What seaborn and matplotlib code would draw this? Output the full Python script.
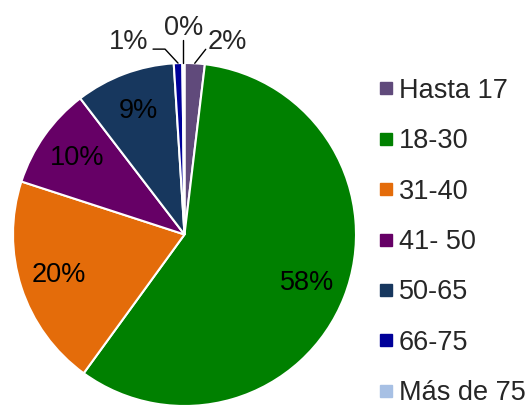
import numpy as np
import matplotlib.pyplot as plt
import seaborn as sns
from matplotlib.lines import Line2D

# datos
grupos = ['Hasta 17', '18-30', '31-40', '41- 50', '50-65', '66-75', 'Más de 75']
porcentajes = [1.9, 58.1, 20.0, 9.6, 9.4, 0.8, 0.2]
etiquetas = ['2%', '58%', '20%', '10%', '9%', '1%', '0%']
colores = ['#604A7B', '#008000', '#E46C0A', '#660066', '#17375E', '#000099', '#A7C0E4']

sns.set_theme(style='white')
plt.rcParams['font.family'] = ['Liberation Sans', 'DejaVu Sans']
fs = 19.5

fig = plt.figure(figsize=(5.25, 4.08), dpi=100)
ax = fig.add_axes([13/525, 2/408, 343/525, 343/408])

wedges, _ = ax.pie(porcentajes, colors=colores, startangle=90, counterclock=False,
                   wedgeprops=dict(edgecolor='white', linewidth=1.5))
ax.set_xlim(-1, 1)
ax.set_ylim(-1, 1)

px = 2/343  # un pixel en unidades de datos

for w, lab in zip(wedges, etiquetas):
    ang = np.deg2rad((w.theta1 + w.theta2) / 2)
    x0, y0 = np.cos(ang), np.sin(ang)
    if w.theta2 - w.theta1 > 20:
        ax.text(0.77*x0, 0.77*y0, lab, ha='center', va='center', fontsize=fs, color='black')
    elif lab == '2%':
        x1, y1 = x0 + 11*px, y0 + 14*px
        ax.plot([x0, x1], [y0, y1], color='black', lw=1, clip_on=False)
        ax.text(x1 + 2*px, y1 - 6*px, lab, ha='left', va='bottom', fontsize=fs, clip_on=False)
    elif lab == '0%':
        x1, y1 = x0, y0 + 23*px
        ax.plot([x0, x1], [y0, y1], color='black', lw=1, clip_on=False)
        ax.text(x1, y1 - 1*px, lab, ha='center', va='bottom', fontsize=fs, clip_on=False)
    else:
        x1, y1 = x0 - 13*px, y0 + 14*px
        x2 = x1 - 12*px
        ax.plot([x0, x1, x2], [y0, y1, y1], color='black', lw=1, clip_on=False)
        ax.text(x2 - 5*px, y1 - 6*px, lab, ha='right', va='bottom', fontsize=fs, clip_on=False)

handles = [Line2D([], [], marker='s', linestyle='', markersize=8,
                  markerfacecolor=c, markeredgecolor=c) for c in colores]
fig.legend(handles, grupos, loc='center left', bbox_to_anchor=(380/525, 1 - 242/408),
           bbox_transform=fig.transFigure, frameon=False, fontsize=fs,
           labelspacing=0.9, handlelength=0.45, handletextpad=0.25,
           borderpad=0, borderaxespad=0)

fig.savefig('out.png', dpi=100)
